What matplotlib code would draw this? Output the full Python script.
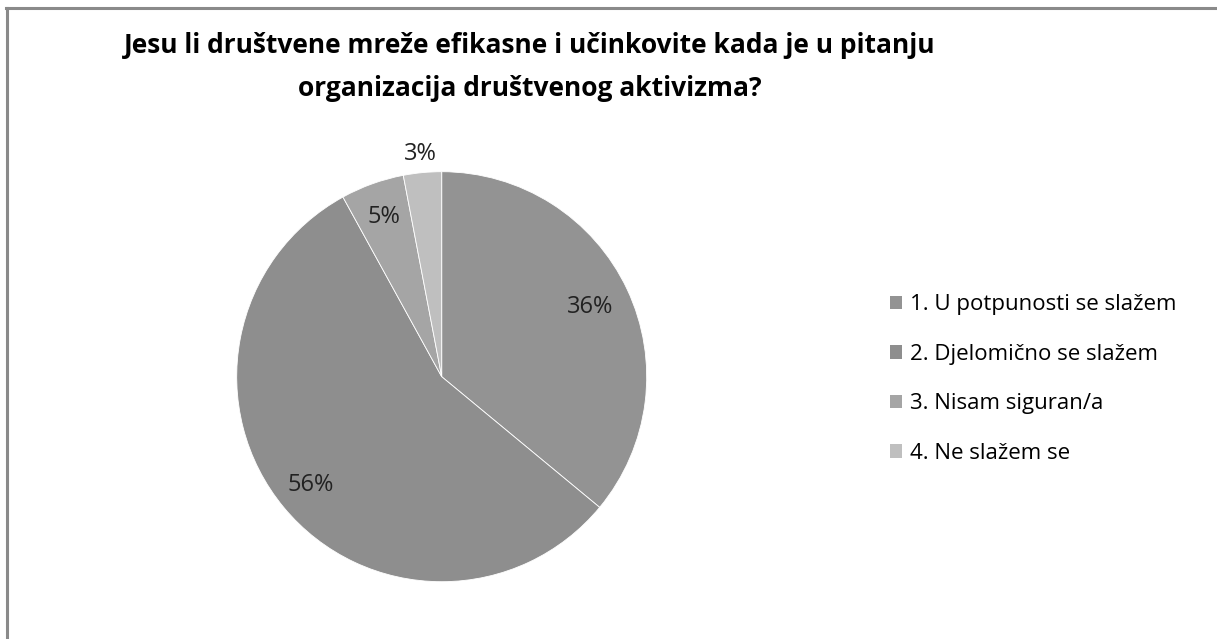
import matplotlib
matplotlib.use('Agg')
import matplotlib.pyplot as plt
from matplotlib.patches import Patch
from matplotlib.lines import Line2D
import numpy as np

# Podaci
labels = ['1. U potpunosti se slažem', '2. Djelomično se slažem',
          '3. Nisam siguran/a', '4. Ne slažem se']
values = [36, 56, 5, 3]
colors = ['#939393', '#8e8e8e', '#a5a5a5', '#bfbfbf']
label_dist = [0.80, 0.83, 0.83, 1.09]

title = 'Jesu li društvene mreže efikasne i učinkovite kada je u pitanju\norganizacija društvenog aktivizma?'

W, H = 1217, 639
fig = plt.figure(figsize=(W / 100, H / 100), dpi=100)
fig.patch.set_facecolor('white')

# okvir (samo gornja i lijeva linija su vidljive)
fig.add_artist(Line2D([6 / W, 1], [1 - 8 / H, 1 - 8 / H], color='#8a8a8a', lw=2.2))
fig.add_artist(Line2D([7 / W, 7 / W], [0, 1 - 8 / H], color='#8a8a8a', lw=2.2))

# pita
cx, cy, r = 441.7, 376.7, 205
ax = fig.add_axes([(cx - r) / W, (H - cy - r) / H, 2 * r / W, 2 * r / H])
wedges, _ = ax.pie(values, colors=colors, startangle=90, counterclock=False,
                   wedgeprops=dict(edgecolor='white', linewidth=0.6))
ax.set_xlim(-1, 1)
ax.set_ylim(-1, 1)
ax.set_aspect('equal')
ax.axis('off')

for w, v, d in zip(wedges, values, label_dist):
    ang = np.deg2rad((w.theta1 + w.theta2) / 2)
    ax.text(d * np.cos(ang), d * np.sin(ang), f'{v}%', ha='center', va='center',
            fontsize=17, family='Open Sans', color='#222222', clip_on=False)

fig.text(530 / W, 1 - 67 / H, title, ha='center', va='center', fontsize=19,
         fontweight='bold', family='Open Sans', linespacing=1.78)

handles = [Patch(facecolor=c, edgecolor='none') for c in colors]
leg = fig.legend(handles, labels, loc='center left', bbox_to_anchor=(879 / W, 1 - 379 / H),
                 frameon=False, prop={'family': 'Open Sans', 'size': 16},
                 handlelength=0.55, handleheight=0.55, handletextpad=0.35,
                 labelspacing=1.28, borderpad=0)

fig.savefig('out.png', dpi=100)
